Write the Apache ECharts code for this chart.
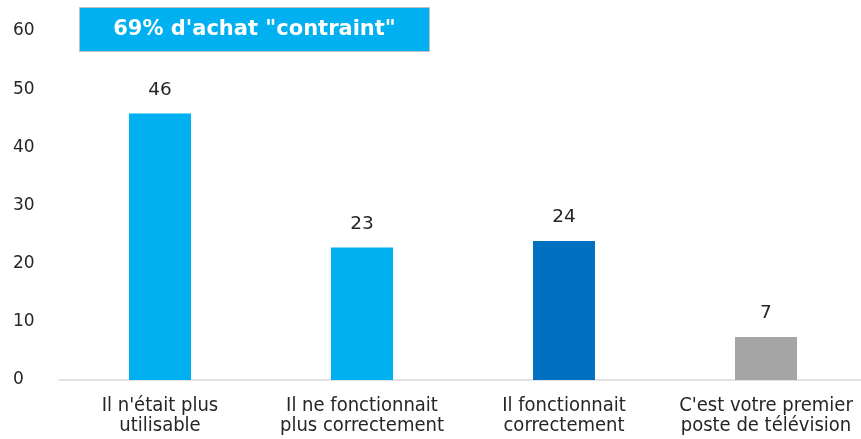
<!DOCTYPE html>
<html><head><meta charset="utf-8">
<script src="https://cdn.jsdelivr.net/npm/echarts@6/dist/echarts.min.js"></script>
<style>html,body{margin:0;padding:0;background:#fff;overflow:hidden}#c{width:861px;height:439px}</style>
</head><body><div id="c"></div>
<script>
const categories = ["Il n'était plus\nutilisable", "Il ne fonctionnait\nplus correctement", "Il fonctionnait\ncorrectement", "C'est votre premier\nposte de télévision"];
const values = [45.8, 22.8, 23.9, 7.4];
const barColors = ["#00B0F0", "#00B0F0", "#0070C0", "#A5A5A5"];
const yTicks = [0, 10, 20, 30, 40, 50, 60];
const boxText = "69% d'achat \"contraint\"";

const chart = echarts.init(document.getElementById('c'), null, {renderer: 'canvas'});
chart.setOption({
  animation: false,
  grid: {left: 59, width: 808, top: 31, bottom: 59, containLabel: false, outerBoundsMode: 'none'},
  xAxis: {
    type: 'category', data: categories,
    axisLine: {lineStyle: {color: '#D9D9D9', width: 1.5}},
    axisTick: {show: false},
    axisLabel: {color: '#262626', fontFamily: 'DejaVu Sans Condensed', fontSize: 20, lineHeight: 20, margin: 16, interval: 0}
  },
  yAxis: {
    type: 'value', min: yTicks[0], max: yTicks[yTicks.length - 1], interval: 10,
    splitLine: {show: false}, axisLine: {show: false}, axisTick: {show: false},
    axisLabel: {color: '#262626', fontFamily: 'DejaVu Sans', fontSize: 17, align: 'left', margin: 46}
  },
  series: [{
    type: 'bar', barWidth: 62,
    data: values.map((v, i) => ({value: v, itemStyle: {color: barColors[i]}})),
    label: {show: true, position: 'top', distance: 14, color: '#262626', fontFamily: 'DejaVu Sans', fontSize: 18.5,
      formatter: p => Math.round(p.value)}
  }],
  graphic: [{
    type: 'group', left: 79, top: 7,
    children: [
      {type: 'rect', shape: {x: 0, y: 0, width: 350, height: 44}, style: {fill: '#00B0F0', stroke: '#BFBFBF', lineWidth: 1}},
      {type: 'text', x: 175, y: 22, style: {text: boxText, fill: '#fff', font: 'bold 21px "DejaVu Sans"', align: 'center', verticalAlign: 'middle'}}
    ]
  }]
});
</script></body></html>
